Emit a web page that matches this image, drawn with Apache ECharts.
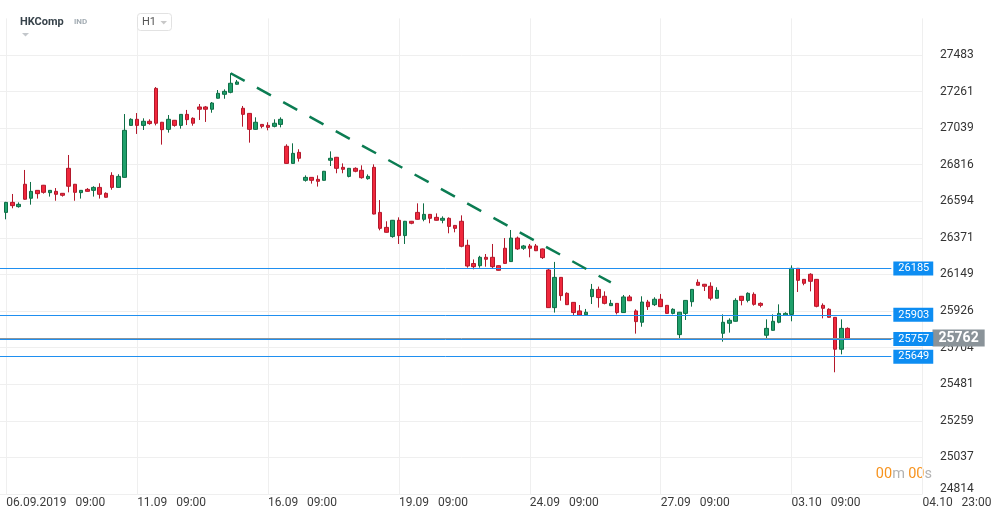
<!DOCTYPE html>
<html><head><meta charset="utf-8">
<script src="https://cdn.jsdelivr.net/npm/echarts@6/dist/echarts.min.js"></script>
<style>html,body{margin:0;padding:0;background:#fff}#c{width:1001px;height:520px}</style>
</head><body><div id="c"></div>
<script>
// ---- data ----
const days = ['06.09','09.09','10.09','11.09','12.09','13.09','16.09','17.09','18.09','19.09','20.09',
  '23.09','24.09','25.09','26.09','27.09','30.09','02.10','03.10','04.10'];
const sessionHours = ['09:00','10:00','11:00','12:00','13:00','14:00','15:00'];
const lastDayHours = ['09:00','10:00','11:00','12:00','13:00','14:00','15:00','16:00','17:00','18:00',
  '19:00','20:00','21:00','22:00','23:00'];

const opens = [26526,26587,26561,26697,26612,26660,26691,26646,26654,26642,26794,26697,26646,26666,26660,26678,26642,26751,26678,26739,
  27055,27092,27055,27080,27280,27074,27031,27086,27055,27122,27098,27167,27167,27153,27220,27244,27256,27305,27159,27128,
  27031,27061,27055,27049,27061,26928,26824,26891,26721,26739,26727,26721,26843,26861,26800,26745,26794,26782,26731,26800,
  26526,26435,26379,26478,26385,26472,26526,26484,26514,26496,26478,26490,26447,26472,26326,26215,26202,26253,26253,26202,
  26308,26227,26370,26308,26322,26322,26304,26176,25947,26131,26034,25979,25927,25904,26014,26058,26016,25959,25973,25917,
  26012,25927,25858,25981,25965,25998,25961,25912,25783,25912,25983,26101,26089,26077,26004,25791,25852,25864,26016,25991,
  26028,25973,25779,25809,25858,25900,25906,26186,26119,26150,26119,25961,25937,25888,25694,25821];
const closes = [26587,26567,26575,26606,26654,26640,26648,26660,26636,26630,26685,26648,26660,26654,26678,26636,26618,26678,26745,27025,
  27092,27055,27080,27066,27068,27029,27092,27055,27122,27090,27068,27153,27153,27191,27250,27262,27311,27319,27122,27031,
  27074,27049,27043,27068,27092,26824,26885,26855,26739,26721,26715,26776,26855,26794,26788,26794,26776,26737,26745,26516,
  26429,26405,26478,26385,26472,26460,26484,26514,26490,26478,26490,26441,26429,26320,26200,26196,26253,26241,26196,26174,
  26216,26370,26304,26322,26308,26293,26251,25947,26131,26020,25965,25917,25902,25919,26058,26008,25973,25973,25917,26012,
  25989,25862,25981,25953,25998,25953,25912,25937,25919,25991,26058,26083,26077,26004,26052,25858,25870,25991,25991,26034,
  25967,25961,25821,25864,25912,25912,26186,26113,26095,26107,25955,25943,25888,25694,25821,25762];
const lows = [26484,26551,26555,26603,26573,26610,26640,26622,26597,26622,26648,26597,26610,26652,26622,26610,26616,26664,26676,26737,
  27053,27003,27027,27059,27055,26938,27011,27047,27035,27057,27053,27088,27076,27132,27218,27217,27250,27303,27047,26950,
  27029,27037,27025,27043,27043,26822,26822,26835,26713,26701,26683,26719,26808,26764,26764,26739,26770,26731,26725,26514,
  26417,26403,26372,26334,26334,26454,26482,26472,26460,26476,26460,26399,26405,26314,26190,26180,26190,26196,26186,26172,
  26214,26225,26298,26298,26253,26291,26243,25945,25917,25989,25963,25902,25900,25902,25969,25947,25967,25957,25906,25915,
  25987,25789,25831,25933,25957,25951,25910,25906,25756,25872,25953,26081,26048,25991,26002,25740,25795,25862,25961,25979,
  25959,25949,25758,25807,25852,25898,25864,26042,26083,26046,25949,25882,25886,25554,25663,25760];
const highs = [26590,26638,26587,26784,26711,26662,26693,26662,26674,26644,26875,26699,26662,26674,26685,26703,26648,26770,26758,27124,
  27098,27130,27098,27092,27288,27076,27118,27088,27124,27149,27104,27185,27173,27197,27270,27274,27372,27331,27173,27130,
  27104,27063,27074,27092,27104,26940,26946,26910,26751,26741,26751,26778,26897,26863,26824,26796,26800,26812,26757,26818,
  26601,26472,26480,26496,26474,26474,26581,26581,26516,26520,26502,26496,26449,26508,26360,26240,26262,26273,26334,26204,
  26370,26419,26379,26328,26334,26334,26306,26182,26225,26133,26040,25981,25963,25939,26091,26075,26046,25994,25975,26024,
  26024,25937,26016,25994,26010,26030,25963,25943,25921,25993,26060,26119,26091,26101,26071,25906,25882,26004,26018,26040,
  26040,25979,25876,25906,25967,25919,26204,26188,26121,26156,26121,25973,25943,25890,25876,25827];

const levels = [26185, 25903, 25757, 25649];
const lastPrice = 25762;
const trendFrom = ['13.09 10:00', 27372];
const trendTo = ['25.09 15:00', 26100];

const yTicks = [24814,25037,25259,25481,25704,25926,26149,26371,26594,26816,27039,27261,27483];
const tickCats = ['06.09 09:00','11.09 09:00','16.09 09:00','19.09 09:00','24.09 09:00','27.09 09:00','03.10 09:00','04.10 23:00'];
const tickLabels = ['06.09.2019   09:00','11.09   09:00','16.09   09:00','19.09   09:00','24.09   09:00','27.09   09:00','03.10   09:00','04.10   23:00'];

// ---- build ----
const categories = ['06.09 08:00'];
days.forEach((d, i) => {
  (i === days.length - 1 ? lastDayHours : sessionHours).forEach(h => categories.push(d + ' ' + h));
});
const candles = ['-'].concat(opens.map((o, i) => [o, closes[i], lows[i], highs[i]]));

const yMin = yTicks[0];
const yStep = (yTicks[yTicks.length - 1] - yTicks[0]) / (yTicks.length - 1);
const yMax = yMin + yStep * yTicks.length;

const lastIdx = categories.length - 1;
const levelEnd = lastIdx - 5;

const markData = levels.map(v => [
  { coord: [0, v], lineStyle: { color: '#1f8ff0', width: 1, type: 'solid' },
    label: { show: true, position: 'end', distance: 2, formatter: String(v), color: '#fff',
      backgroundColor: '#0d8df2', fontSize: 11, padding: [2, 4, 1, 5], fontFamily: 'Roboto' } },
  { coord: [levelEnd, v] }
]);
markData.unshift([
  { coord: [0, lastPrice], lineStyle: { color: '#8c959b', width: 1, type: 'solid' },
    label: { show: true, position: 'end', distance: 5, formatter: '{a|◀}{b|' + lastPrice + '}',
      rich: {
        a: { color: '#8a9399', fontSize: 10, padding: [0, -3, 0, 0] },
        b: { color: '#fff', backgroundColor: '#8a9399', fontSize: 14, fontWeight: 'bold', padding: [2, 6, 1, 6], fontFamily: 'Roboto' }
      } } },
  { coord: [lastIdx, lastPrice] }
]);
markData.push([
  { coord: trendFrom, lineStyle: { color: '#0b7c52', width: 2.5, type: [16, 14] }, label: { show: false } },
  { coord: trendTo }
]);

const isTick = (idx, val) => tickCats.indexOf(val) >= 0;

const chart = echarts.init(document.getElementById('c'));
chart.setOption({
  animation: false,
  backgroundColor: '#fff',
  textStyle: { fontFamily: 'Roboto' },
  grid: { left: 0, right: 78.5, top: 18.4, bottom: 26, outerBoundsMode: 'none' },
  xAxis: {
    type: 'category', data: categories, boundaryGap: false,
    axisLine: { show: false }, axisTick: { show: false },
    axisLabel: { interval: isTick, formatter: v => tickLabels[tickCats.indexOf(v)] || '',
      align: 'left', color: '#3c3c3c', fontSize: 12, margin: 3 },
    splitLine: { show: true, interval: isTick, lineStyle: { color: '#efefef', width: 1 } }
  },
  yAxis: {
    type: 'value', position: 'right', min: yMin, max: yMax, interval: yStep, scale: true,
    axisLine: { show: false }, axisTick: { show: false },
    axisLabel: { color: '#333', fontSize: 12, margin: 17.5, showMaxLabel: false,
      formatter: v => { const i = Math.round((v - yMin) / yStep); if (i >= yTicks.length) return ''; return i === 0 ? '{b|' + yTicks[0] + '}' : String(yTicks[i]); },
      rich: { b: { color: '#333', fontSize: 12, padding: [0, 0, 10, 0] } } },
    splitLine: { show: true, showMaxLine: false, lineStyle: { color: '#efefef', width: 1 } }
  },
  series: [{
    type: 'candlestick', data: candles, barWidth: 4, clip: false,
    itemStyle: { color: '#1fa06b', color0: '#f0283c', borderColor: '#0e6e46', borderColor0: '#b3182b', borderWidth: 1 },
    markLine: { symbol: ['none', 'none'], silent: true, animation: false, data: markData }
  }],
  graphic: [
    { type: 'text', left: 20, top: 17, style: { text: 'HKComp', font: 'bold 11px Roboto', fill: '#38434b' } },
    { type: 'text', left: 74, top: 18, style: { text: 'IND', font: 'bold 8px Roboto', fill: '#a3acb3' } },
    { type: 'polygon', shape: { points: [[22, 33], [29, 33], [25.5, 36.5]] }, style: { fill: '#c3c7cb' } },
    { type: 'rect', shape: { x: 137.5, y: 13.5, width: 34, height: 17, r: 3 }, style: { fill: '#fff', stroke: '#e2e2e2', lineWidth: 1 }, z: 10 },
    { type: 'text', left: 142, top: 17, z: 11, style: { text: 'H1', font: '11px Roboto', fill: '#555' } },
    { type: 'polygon', z: 11, shape: { points: [[160.5, 21], [167, 21], [163.75, 24.5]] }, style: { fill: '#c8c8c8' } },
    { type: 'text', right: 69, top: 467, style: {
        text: '{o|00}{g|m} {o|00}{g|s}',
        rich: { o: { fill: '#f7931e', font: '14.5px Roboto' }, g: { fill: '#b3b3b3', font: '14.5px Roboto' } } } }
  ]
});
</script></body></html>
